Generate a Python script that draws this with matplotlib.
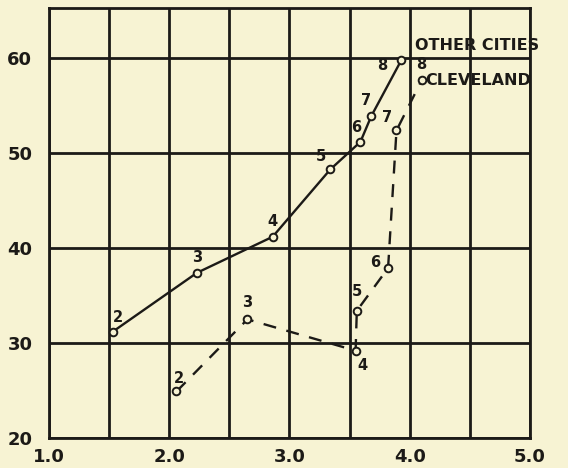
import matplotlib.pyplot as plt

# data
other_x = [1.53, 2.23, 2.86, 3.34, 3.59, 3.68, 3.93]
other_y = [31.2, 37.4, 41.2, 48.3, 51.2, 53.9, 59.8]
cleve_x = [2.06, 2.65, 3.55, 3.56, 3.82, 3.89, 4.10]
cleve_y = [24.9, 32.5, 29.2, 33.4, 37.9, 52.4, 57.7]
point_labels = ['2', '3', '4', '5', '6', '7', '8']

x_ticks = [1.0, 2.0, 3.0, 4.0, 5.0]
y_ticks = [20, 30, 40, 50, 60]

# label offsets in points (layout only)
other_off = [(4, 10), (0, 11), (0, 11), (-7, 9), (-3, 10), (-4, 11), (-14, -4)]
cleve_off = [(2, 9), (0, 12), (5, -11), (0, 14), (-9, 4), (-7, 9), (0, 11)]

bg = '#f7f3d3'
ink = '#1c1a17'

plt.rcParams['font.family'] = ['DejaVu Sans']
fig = plt.figure(figsize=(5.68, 4.68), dpi=100, facecolor=bg)
ax = fig.add_axes([0.0863, 0.0641, 0.8467, 0.9188])
ax.set_facecolor(bg)

ax.set_xlim(1.0, 5.0)
ax.set_ylim(20, 65.3)
ax.set_xticks([1.0 + 0.5 * i for i in range(9)])
ax.set_xticklabels(['1.0', '', '2.0', '', '3.0', '', '4.0', '', '5.0'])
ax.set_yticks(y_ticks)
ax.set_yticklabels([str(v) for v in y_ticks])
ax.tick_params(length=0, labelsize=13, colors=ink)
ax.tick_params(axis='x', pad=7)
ax.tick_params(axis='y', pad=12)
for lab in ax.get_xticklabels() + ax.get_yticklabels():
    lab.set_fontweight('bold')
ax.grid(True, color=ink, linewidth=2.0)
ax.set_axisbelow(True)
for sp in ax.spines.values():
    sp.set_color(ink)
    sp.set_linewidth(2.0)

ax.plot(other_x, other_y, color=ink, linewidth=1.7, marker='o', markersize=5.5,
        markerfacecolor=bg, markeredgecolor=ink, markeredgewidth=1.4, zorder=3)
ax.plot(cleve_x, cleve_y, color=ink, linewidth=1.7, dashes=(5.5, 4.5), marker='o',
        markersize=5.5, markerfacecolor=bg, markeredgecolor=ink, markeredgewidth=1.4, zorder=3)

for x, y, t, off in zip(other_x, other_y, point_labels, other_off):
    ax.annotate(t, (x, y), xytext=off, textcoords='offset points', ha='center', va='center',
                fontsize=10.5, fontweight='bold', color=ink)
for x, y, t, off in zip(cleve_x, cleve_y, point_labels, cleve_off):
    ax.annotate(t, (x, y), xytext=off, textcoords='offset points', ha='center', va='center',
                fontsize=10.5, fontweight='bold', color=ink)

ax.text(4.04, 61.4, 'OTHER CITIES', fontsize=11.5, fontweight='bold', color=ink,
        ha='left', va='center', clip_on=False)
ax.text(4.13, 57.7, 'CLEVELAND', fontsize=11.5, fontweight='bold', color=ink,
        ha='left', va='center', clip_on=False)

fig.savefig('out.png', dpi=100, facecolor=bg)
